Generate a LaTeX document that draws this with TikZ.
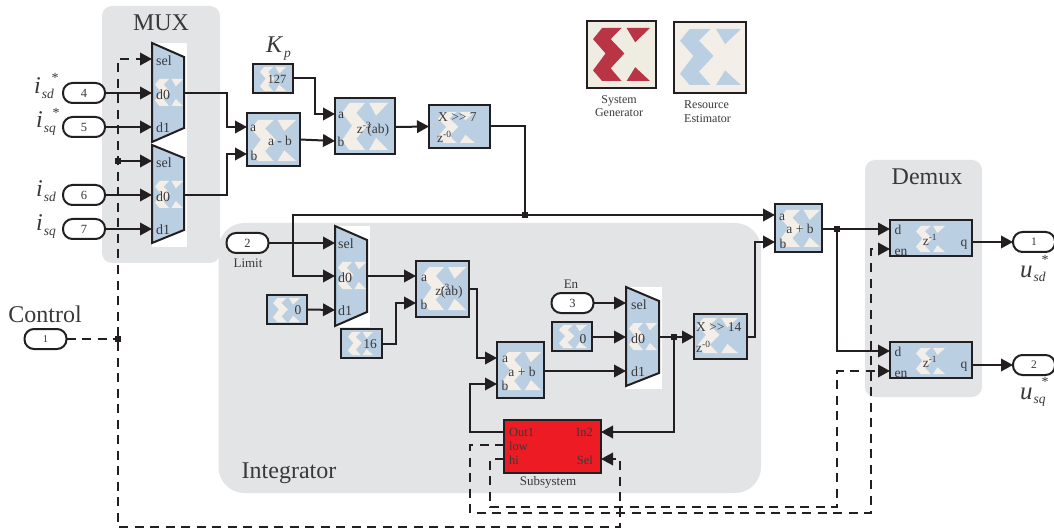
\documentclass[tikz,border=0pt]{standalone}
\usepackage{fontspec}
\setmainfont{Liberation Serif}
\usetikzlibrary{arrows.meta}
\definecolor{bgg}{HTML}{E3E4E6}
\definecolor{xblue}{HTML}{BBCFE3}
\definecolor{xcream}{HTML}{F3EFE8}
\definecolor{sgcream}{HTML}{EFEDE2}
\definecolor{ink}{HTML}{231F20}
\definecolor{txt}{HTML}{3A3839}
\definecolor{xred}{HTML}{ED1C24}
\definecolor{lred}{HTML}{B93545}
\tikzset{
  blockbox/.style={draw=ink,fill=xblue,line width=2pt,inner sep=0pt,outer sep=0pt},
  whitebox/.style={draw=none,fill=white,inner sep=0pt,outer sep=0pt},
  muxshape/.style={draw=ink,fill=xblue,line width=2pt,line join=miter},
  pill/.style={draw=ink,fill=white,line width=2pt,rounded corners=9.5pt,minimum width=42pt,minimum height=20pt,inner sep=0pt,outer sep=0pt,text=txt,font=\fontsize{12.5}{12.5}\selectfont},
  wire/.style={draw=ink,line width=2pt},
  arrow/.style={wire,-{Triangle[length=12pt,width=12.5pt]}},
  dashw/.style={wire,dash pattern=on 9pt off 6.5pt},
  darrow/.style={dashw,-{Triangle[length=12pt,width=12.5pt]}},
  junc/.style={draw=none,fill=ink,minimum size=6pt,inner sep=0pt,outer sep=0pt},
  port/.style={text=txt,inner sep=0pt,font=\fontsize{13.5}{13.5}\selectfont},
  title/.style={text=txt,inner sep=0pt,font=\fontsize{24}{24}\selectfont},
  caption/.style={text=txt,inner sep=0pt,font=\fontsize{13}{14}\selectfont},
  star/.style={text=txt,inner sep=0pt,font=\fontsize{14}{14}\selectfont},
}
\newcommand{\blk}[5]{%
  \pgfmathsetmacro{\bw}{#4-#2}\pgfmathsetmacro{\bh}{#5-#3}%
  \pgfmathsetmacro{\bx}{(#2+#4)/2}\pgfmathsetmacro{\by}{(#3+#5)/2}%
  \node[blockbox,minimum width=\bw pt,minimum height=\bh pt] (#1) at (\bx,\by) {};}
\newcommand{\wbox}[5]{%
  \pgfmathsetmacro{\bw}{#4-#2}\pgfmathsetmacro{\bh}{#5-#3}%
  \pgfmathsetmacro{\bx}{(#2+#4)/2}\pgfmathsetmacro{\by}{(#3+#5)/2}%
  \node[whitebox,minimum width=\bw pt,minimum height=\bh pt] (#1) at (\bx,\by) {};}
\newcommand{\xmark}[5]{%
  \begin{scope}[shift={(#2,#3)},x={(#4pt-#2pt,0pt)},y={(0pt,#3pt-#5pt)}]
    \fill[#1] (0.16,0)--(0.50,0)--(0.31,0.21)--(0.55,0.48)--(0.31,0.76)--(0.50,1)--(0.16,1)--(0,0.80)--(0.22,0.48)--(0,0.21)--cycle;
    \fill[#1] (0.59,0)--(1,0)--(0.74,0.27)--cycle;
    \fill[#1] (0.74,0.74)--(1,1)--(0.59,1)--cycle;
  \end{scope}}
\newcommand{\sym}[6]{%
  \node[text=txt,inner sep=0pt,anchor=base west] (#1) at (#2,#3) {\fontsize{#6}{#6}\selectfont\textit{#4}\kern1pt\raisebox{-4.5pt}{\fontsize{13.5}{13.5}\selectfont\textit{#5}}};}
\begin{document}
\begin{tikzpicture}[x=1pt,y=-1pt]
\useasboundingbox (0,0) rectangle (1054,529);
\fill[white] (0,0) rectangle (1054,529);
% panels
\fill[bgg,rounded corners=10pt] (102,6) rectangle (220,263);
\fill[bgg,rounded corners=26pt] (218.5,223) rectangle (761,493);
\fill[bgg,rounded corners=10pt] (865,160) rectangle (982,397);
% white backings
\wbox{m1}{152}{43}{187}{147}
\wbox{m2}{152}{145}{187}{247}
\wbox{m4}{335}{226}{370}{327}
\wbox{m3}{626}{287}{662}{389}
% muxes
\path[muxshape] (152,43)--(184,57)--(184,128)--(152,142)--cycle;
\path[muxshape] (152,145)--(184,158)--(184,230)--(152,243)--cycle;
\path[muxshape] (335,226)--(367,240)--(367,312)--(335,326)--cycle;
\path[muxshape] (626,287)--(659,301)--(659,373)--(626,386)--cycle;
\xmark{xcream}{155}{79}{183}{106}
\xmark{xcream}{155}{181}{183}{208}
\xmark{xcream}{338}{262}{366}{289}
\xmark{xcream}{629}{323}{657}{350}
% blocks
\blk{kp}{253}{64}{293}{93}\xmark{xcream}{260}{67}{286}{91}
\blk{sub}{247}{113}{300}{166}\xmark{xcream}{251}{120}{296}{161}
\blk{mulA}{335}{98}{395}{154}\xmark{xcream}{342}{103}{388}{150}
\blk{shA}{429}{105}{490}{148}\xmark{xcream}{438}{112}{475}{143}
\blk{czero}{267}{295}{307}{324}\xmark{xcream}{273}{298}{300}{322}
\blk{csix}{341}{329}{382}{358}\xmark{xcream}{348}{332}{373}{355}
\blk{mulB}{416}{261}{469}{317}\xmark{xcream}{422}{267}{466}{310}
\blk{addA}{497}{342}{544}{398}\xmark{xcream}{502}{352}{541}{390}
\blk{cnull}{552}{322}{592}{351}\xmark{xcream}{559}{325}{587}{348}
\blk{shB}{694}{314}{747}{359}\xmark{xcream}{697}{318}{738}{353}
\blk{addB}{775}{204}{822}{252}\xmark{xcream}{780}{210}{820}{247}
\blk{regA}{890}{220}{972}{256}\xmark{xcream}{916}{226}{945}{252}
\blk{regB}{890}{342}{972}{378}\xmark{xcream}{916}{348}{945}{374}
% system blocks
\node[draw=ink,fill=xred,line width=2pt,minimum width=97pt,minimum height=53pt,inner sep=0pt,outer sep=0pt] (subs) at (552.5,446.5) {};
\node[draw=ink,fill=sgcream,line width=2pt,minimum width=69pt,minimum height=67pt,inner sep=0pt,outer sep=0pt] (sysgen) at (621.5,54.5) {};
\xmark{lred}{593}{28}{650}{81}
\node[draw=ink,fill=xcream,line width=2pt,minimum width=72pt,minimum height=71pt,inner sep=0pt,outer sep=0pt] (resest) at (710,57.5) {};
\xmark{xblue}{680}{29}{741}{85}
% pills
\node[pill] (p4) at (84,93) {4};
\node[pill] (p5) at (84,127) {5};
\node[pill] (p6) at (84,195) {6};
\node[pill] (p7) at (84,229) {7};
\node[pill,font=\fontsize{10.5}{10.5}\selectfont] (pctl) at (45.5,339) {1};
\node[pill] (plim) at (247.5,243) {2};
\node[pill] (pen) at (572.5,303) {3};
\node[pill,font=\fontsize{11.5}{11.5}\selectfont] (poa) at (1034,242) {1};
\node[pill,font=\fontsize{11.5}{11.5}\selectfont] (pob) at (1034,365) {2};
% ports
\coordinate (m1sel) at (152,59);\coordinate (m1d0) at (152,93);\coordinate (m1d1) at (152,127);\coordinate (m1o) at (184,93);
\coordinate (m2sel) at (152,161);\coordinate (m2d0) at (152,195);\coordinate (m2d1) at (152,229);\coordinate (m2o) at (184,195);
\coordinate (m4sel) at (335,243);\coordinate (m4d0) at (335,276);\coordinate (m4d1) at (335,310);\coordinate (m4o) at (367,276);
\coordinate (m3sel) at (626,303);\coordinate (m3d0) at (626,337);\coordinate (m3d1) at (626,371);\coordinate (m3o) at (659,337);
\coordinate (suba) at (247,127);\coordinate (subb) at (247,154);
\coordinate (mAa) at (335,114);\coordinate (mAb) at (335,141);\coordinate (mAo) at (395,127);
\coordinate (mBa) at (416,276);\coordinate (mBb) at (416,303);\coordinate (mBo) at (469,289);
\coordinate (aAa) at (497,358);\coordinate (aAb) at (497,384);\coordinate (aAo) at (544,371);
\coordinate (aBa) at (775,215);\coordinate (aBb) at (775,242);\coordinate (aBo) at (822,229);
\coordinate (rAd) at (890,229);\coordinate (rAe) at (890,249);\coordinate (rAq) at (972,242);
\coordinate (rBd) at (890,351);\coordinate (rBe) at (890,371);\coordinate (rBq) at (972,365);
\coordinate (sOut) at (504,432);\coordinate (sLow) at (504,445);\coordinate (sHi) at (504,459);
\coordinate (sIn) at (601,432);\coordinate (sSel) at (601,459);
\coordinate (shBi) at (694,337);\coordinate (shBo) at (747,337);
% junctions
\node[junc] (jca) at (118,161) {};
\node[junc] (jcb) at (118,339) {};
\node[junc] (jf) at (525,215) {};
\node[junc] (jg) at (674,337) {};
\node[junc] (jo) at (837,229) {};
% dashed control
\coordinate (ctop) at (118,59);
\coordinate (cbot) at (118,527);
\coordinate (cbr) at (620,527);
\coordinate (cup) at (620,459);
\coordinate (lowa) at (470,445);\coordinate (lowb) at (470,513);\coordinate (lowc) at (871,513);\coordinate (lowd) at (871,249);
\coordinate (hia) at (490,459);\coordinate (hib) at (490,507);\coordinate (hic) at (837,507);\coordinate (hid) at (837,371);
\draw[dashw] (pctl.east) -- (jcb);
\draw[darrow] (jcb) -- (ctop) -- (m1sel);
\draw[arrow] (jca) -- (m2sel);
\draw[darrow] (jcb) -- (cbot) -- (cbr) -- (cup) -- (sSel);
\draw[darrow] (sLow) -- (lowa) -- (lowb) -- (lowc) -- (lowd) -- (rAe);
\draw[darrow] (sHi) -- (hia) -- (hib) -- (hic) -- (hid) -- (rBe);
% solid wires
\draw[arrow] (p4.east) -- (m1d0);
\draw[arrow] (p5.east) -- (m1d1);
\draw[arrow] (p6.east) -- (m2d0);
\draw[arrow] (p7.east) -- (m2d1);
\draw[arrow] (m1o) -- (227,93) -- (227,127) -- (suba);
\draw[arrow] (m2o) -- (227,195) -- (227,154) -- (subb);
\draw[arrow] (sub.east) -- (mAb);
\draw[arrow] (kp.east) -- (315,78.5) -- (315,114) -- (mAa);
\draw[arrow] (mAo) -- (shA.west);
\draw[wire] (shA.east) -- (525,126.5) -- (jf);
\draw[arrow] (jf) -- (aBa);
\draw[arrow] (jf) -- (293,215) -- (293,276) -- (m4d0);
\draw[arrow] (plim.east) -- (m4sel);
\draw[arrow] (czero.east) -- (m4d1);
\draw[arrow] (m4o) -- (mBa);
\draw[arrow] (csix.east) -- (396,343.5) -- (396,303) -- (mBb);
\draw[arrow] (mBo) -- (477,289) -- (477,358) -- (aAa);
\draw[arrow] (sOut) -- (470,432) -- (470,384) -- (aAb);
\draw[arrow] (aAo) -- (m3d1);
\draw[arrow] (pen.east) -- (m3sel);
\draw[arrow] (cnull.east |- m3d0) -- (m3d0);
\draw[arrow] (m3o) -- (shBi);
\draw[arrow] (jg) -- (674,432) -- (sIn);
\draw[arrow] (shBo) -- (755,337) -- (755,242) -- (aBb);
\draw[arrow] (aBo) -- (rAd);
\draw[arrow] (jo) -- (837,351) -- (rBd);
\draw[arrow] (rAq) -- (poa.west);
\draw[arrow] (rBq) -- (pob.west);
% titles
\node[title] (tmux) at (161,23) {MUX};
\node[title] (tdem) at (927,177) {Demux};
\node[title] (tint) at (289,473) {Integrator};
\node[title] (tctl) at (45,314) {Control};
\node[caption] (tlim) at (248,263) {Limit};
\node[caption] (ten) at (571,284) {En};
\node[caption] (tsub) at (548,482) {Subsystem};
\node[caption,align=center,font=\fontsize{12}{13}\selectfont] (tsg) at (619,106.5) {System\\Generator};
\node[caption,align=left,anchor=west,font=\fontsize{12}{14}\selectfont] (tre) at (684,112) {Resource\\Estimator};
% symbols
\sym{ia}{34}{94}{i}{sd}{24}
\node[star] (sa) at (55,78) {*};
\sym{ib}{36}{128}{i}{sq}{24}
\node[star] (sb) at (56,113) {*};
\sym{ic}{36}{197}{i}{sd}{24}
\sym{id}{36}{231}{i}{sq}{24}
\sym{ua}{1020}{277}{u}{sd}{25}
\node[star] (sc) at (1045,260) {*};
\sym{ub}{1020}{399}{u}{sq}{25}
\node[star] (sd) at (1045,382) {*};
\sym{kpl}{266}{53}{K}{p}{24}
% mux text
\foreach \nm/\xx/\yy/\ss in {
 a1/156/61/sel,a2/156/94.5/d0,a3/156/128/d1,
 b1/156/162.5/sel,b2/156/196.5/d0,b3/156/230/d1,
 c1/338/244/sel,c2/338/278/d0,c3/338/311/d1,
 d1/631/305/sel,d2/631/339/d0,d3/631/372/d1}{
  \node[port,anchor=west,font=\fontsize{14}{14}\selectfont] (q\nm) at (\xx,\yy) {\ss};}
% port text
\foreach \nm/\xx/\yy/\ss in {
 e1/253/128/a,e2/254/156/b,f1/341/115/a,f2/341/142/b,
 g1/424/278/a,g2/424/305/b,h1/505/359/a,h2/505/386/b,
 i1/782/217/a,i2/783/244/b,
 r1/898/230/d,r2/901/252/en,r3/898/352/d,r4/901/374/en,r5/964/245/q,r6/964/367/q}{
  \node[port] (w\nm) at (\xx,\yy) {\ss};}
\node[port,font=\fontsize{12.5}{12.5}\selectfont] (l1) at (277,79) {127};
\node[port] (tsubt) at (280,141) {a - b};
\node[port] (taddA) at (522,372) {a + b};
\node[port] (taddB) at (800,229) {a + b};
\node[port,anchor=west] (tshA) at (438,117) {X >{}> 7};
\node[port,anchor=west] (tzA) at (437,137) {z\textsuperscript{-0}};
\node[port,anchor=west] (tshB) at (696,327) {X >{}> 14};
\node[port,anchor=west] (tzB) at (696,347) {z\textsuperscript{-0}};
\node[port] (tmA) at (373,129) {z\textsuperscript{-3}\kern-4pt(ab)};
\node[port] (tmB) at (449,291) {z\textsuperscript{-3}\kern-9pt(ab)};
\node[port] (tc0) at (298,310) {0};
\node[port] (tc16) at (370,344) {16};
\node[port] (tc00) at (583,339) {0};
\node[port] (tzr1) at (930,240) {z\textsuperscript{-1}};
\node[port] (tzr2) at (930,362) {z\textsuperscript{-1}};
% subsystem text
\foreach \nm/\xx/\yy/\ss in {s1/509/432/Out1,s2/509/446/low,s3/509/460/hi}{
  \node[port,anchor=west,font=\fontsize{12.5}{12.5}\selectfont] (\nm) at (\xx,\yy) {\ss};}
\foreach \nm/\xx/\yy/\ss in {s4/593/432/In2,s5/593/460/Sel}{
  \node[port,anchor=east,font=\fontsize{12.5}{12.5}\selectfont] (\nm) at (\xx,\yy) {\ss};}
\end{tikzpicture}
\end{document}
